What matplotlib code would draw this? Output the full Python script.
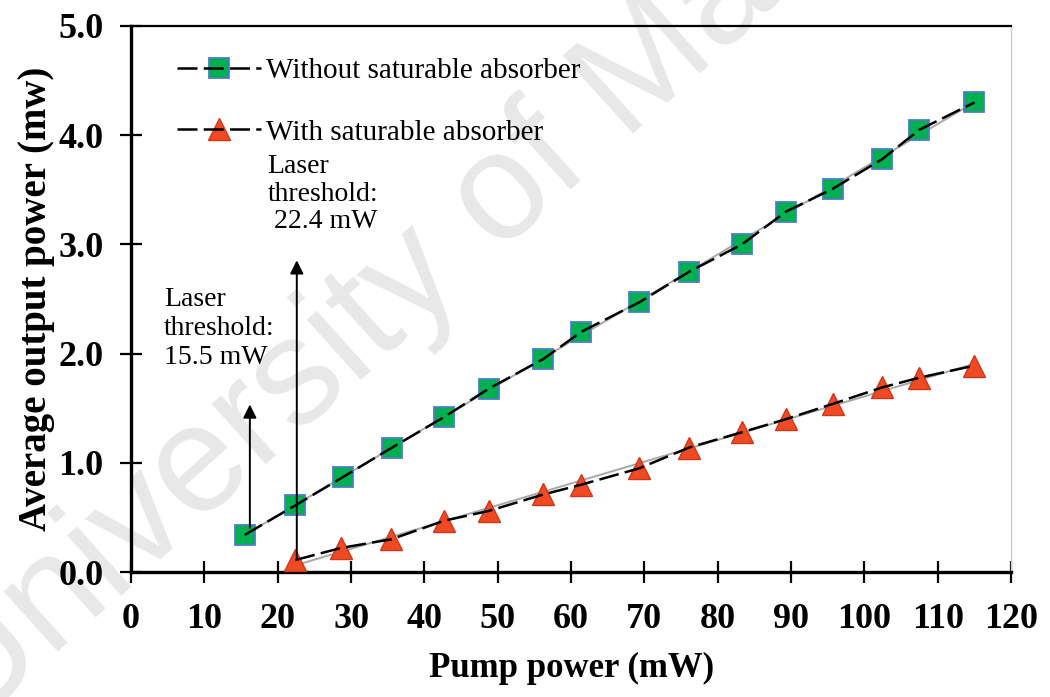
import matplotlib
matplotlib.use("Agg")
import matplotlib.pyplot as plt
from matplotlib.legend_handler import HandlerTuple
import numpy as np

# Pump power (mW) and average output power (mW)
pump_without = [15.5, 22.4, 28.9, 35.6, 42.7, 48.8, 56.2, 61.4, 69.3, 76.1, 83.3, 89.3, 95.7, 102.4, 107.5, 115.0]
out_without = [0.34, 0.61, 0.87, 1.14, 1.42, 1.68, 1.95, 2.20, 2.47, 2.75, 3.00, 3.30, 3.51, 3.78, 4.05, 4.30]

pump_with = [22.4, 28.6, 35.5, 42.7, 48.8, 56.2, 61.4, 69.3, 76.1, 83.3, 89.3, 95.7, 102.4, 107.5, 115.0]
out_with = [0.11, 0.22, 0.30, 0.47, 0.56, 0.71, 0.80, 0.95, 1.14, 1.28, 1.40, 1.54, 1.69, 1.78, 1.89]

x_ticks = list(range(0, 121, 10))
y_ticks = [0.0, 1.0, 2.0, 3.0, 4.0, 5.0]

serif = ["Liberation Serif", "DejaVu Serif"]
plt.rcParams["font.family"] = serif

fig = plt.figure(figsize=(10.5, 6.97), dpi=100)
ax = fig.add_axes([0.1248, 0.1793, 0.8382, 0.7834])
ax.set_zorder(1)
ax.set_facecolor("none")

# faint watermark behind everything
fig.text(-0.01, -0.085, "University of Malaya", fontsize=110, color="#e8e8e8",
         family="Liberation Sans", rotation=42, rotation_mode="anchor",
         ha="left", va="bottom", zorder=-5)

# linear fits (thin grey) behind the dashed data lines
for xs, ys in [(pump_without, out_without), (pump_with, out_with)]:
    k, b = np.polyfit(xs, ys, 1)
    xx = np.array([xs[0], xs[-1]])
    ax.plot(xx, k * xx + b, color="#a8a8a8", lw=1.4, zorder=2)

# markers first, dashed lines drawn over them
m1, = ax.plot(pump_without, out_without, ls="none",
              marker="s", markersize=14.5, markerfacecolor="#00b050",
              markeredgecolor="#4a7ec8", markeredgewidth=1.3, zorder=3)
l1, = ax.plot(pump_without, out_without, color="black", lw=1.8, dashes=(8, 2.5), zorder=4)
m2, = ax.plot(pump_with, out_with, ls="none",
              marker="^", markersize=16, markerfacecolor="#f04a24",
              markeredgecolor="#d0361a", markeredgewidth=1.0, zorder=3)
l2, = ax.plot(pump_with, out_with, color="black", lw=1.8, dashes=(8, 2.5), zorder=4)

# threshold arrows
ax.annotate("", xy=(16.2, 1.56), xytext=(16.2, 0.38),
            arrowprops=dict(arrowstyle="-|>", color="black", lw=1.4, mutation_scale=20))
ax.annotate("", xy=(22.6, 2.88), xytext=(22.6, 0.1),
            arrowprops=dict(arrowstyle="-|>", color="black", lw=1.4, mutation_scale=20))
ax.text(4.5, 2.61, "Laser\nthreshold:\n15.5 mW", fontsize=20, ha="left", va="top",
        linespacing=1.22)
ax.text(18.6, 3.83, "Laser\nthreshold:\n 22.4 mW", fontsize=20, ha="left", va="top",
        linespacing=1.15)

ax.set_xlim(0, 120)
ax.set_ylim(0, 5.0)
ax.set_xticks(x_ticks)
ax.set_yticks(y_ticks)
ax.set_yticklabels([f"{v:.1f}" for v in y_ticks], fontsize=26, fontweight="bold")
ax.set_xticklabels([str(v) for v in x_ticks], fontsize=26, fontweight="bold")
ax.tick_params(direction="inout", length=16, width=1.6)
ax.tick_params(axis="x", pad=14)
ax.tick_params(axis="y", pad=12)

for s in ["left", "bottom"]:
    ax.spines[s].set_linewidth(2.4)
ax.spines["top"].set_linewidth(1.6)
ax.spines["right"].set_color("#cfcfcf")
ax.spines["right"].set_linewidth(1.0)

ax.set_xlabel("Pump power (mW)", fontsize=25, fontweight="bold", labelpad=12)
ax.set_ylabel("Average output power (mw)", fontsize=28, fontweight="bold", labelpad=2)

leg = ax.legend([(m1, l1), (m2, l2)],
                ["Without saturable absorber", "With saturable absorber"],
                handler_map={tuple: HandlerTuple(ndivide=1)},
                loc="upper left", bbox_to_anchor=(0.022, 0.99), frameon=False,
                fontsize=21, handlelength=2.9, handletextpad=0.15, labelspacing=1.2)

fig.savefig("out.png", dpi=100)
